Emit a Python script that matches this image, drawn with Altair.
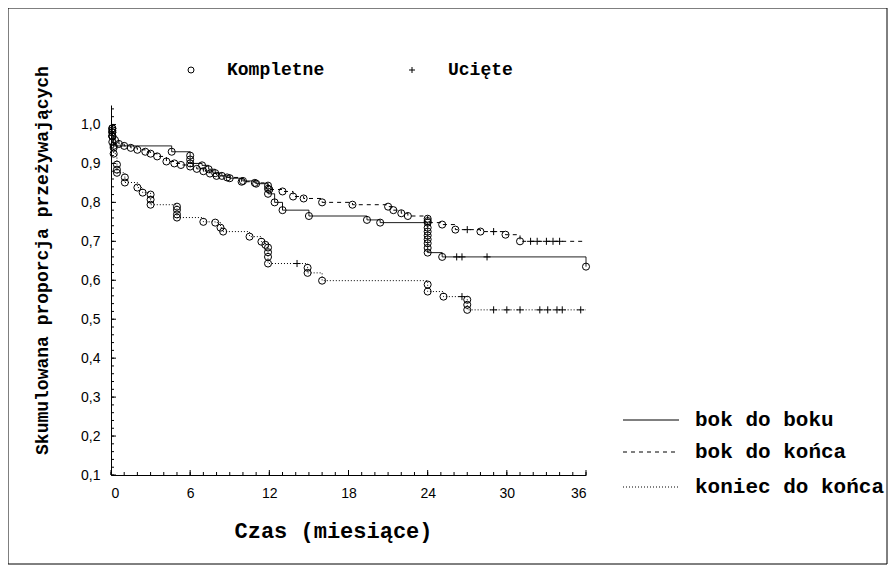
import altair as alt
import pandas as pd

series_names = ["bok do boku", "bok do końca", "koniec do końca"]
kinds = ["Kompletne", "Ucięte"]

# --- bok do boku (solid) ---
s1_event_t = [0.1, 0.1, 0.1, 0.2, 4.6, 6.0, 6.0, 6.0, 6.9, 7.4, 7.9, 8.4, 9.0, 10.0, 11.0,
              11.9, 11.9, 12.4, 13.0, 15.0, 19.4, 20.4, 24.0, 24.0, 24.0, 24.0, 24.0, 24.0,
              24.0, 25.1, 36.0]
s1_event_s = [0.99, 0.98, 0.97, 0.945, 0.93, 0.92, 0.91, 0.90, 0.895, 0.885, 0.875, 0.868,
              0.862, 0.855, 0.848, 0.835, 0.822, 0.80, 0.78, 0.765, 0.755, 0.748, 0.735,
              0.725, 0.715, 0.705, 0.695, 0.683, 0.671, 0.66, 0.635]
s1_cens_t = [26.2, 26.6, 28.5]
s1_cens_s = [0.66, 0.66, 0.66]

# --- bok do końca (dashed) ---
s2_event_t = [0.1, 0.1, 0.1, 0.3, 0.6, 1.0, 1.5, 2.0, 2.6, 3.0, 3.5, 4.2, 4.8, 5.3, 6.0,
              6.5, 7.0, 7.5, 8.0, 8.8, 9.9, 10.9, 11.9, 12.0, 13.0, 13.8, 14.6, 16.0, 18.3,
              21.0, 21.4, 22.0, 22.5, 24.0, 24.0, 24.0, 25.1, 26.1, 28.0, 29.9, 31.0]
s2_event_s = [0.99, 0.98, 0.97, 0.96, 0.95, 0.945, 0.94, 0.935, 0.93, 0.925, 0.918, 0.905,
              0.90, 0.896, 0.892, 0.886, 0.88, 0.874, 0.868, 0.864, 0.853, 0.85, 0.843,
              0.833, 0.828, 0.815, 0.81, 0.80, 0.794, 0.789, 0.78, 0.772, 0.765, 0.758,
              0.752, 0.748, 0.743, 0.73, 0.725, 0.717, 0.70]
s2_cens_t = [27.0, 29.0, 31.8, 32.3, 33.0, 33.5, 34.0]
s2_cens_s = [0.73, 0.725, 0.70, 0.70, 0.70, 0.70, 0.70]

# --- koniec do końca (dotted) ---
s3_event_t = [0.1, 0.1, 0.1, 0.2, 0.2, 0.45, 0.45, 0.45, 1.05, 1.05, 2.0, 2.4, 3.0, 3.0,
              3.0, 5.0, 5.0, 5.0, 5.0, 7.0, 7.9, 8.3, 8.5, 10.5, 11.4, 11.7, 11.9, 11.9,
              11.9, 11.9, 14.9, 14.9, 16.0, 24.0, 24.0, 25.2, 27.0, 27.0, 27.0]
s3_event_s = [0.985, 0.97, 0.955, 0.94, 0.925, 0.897, 0.884, 0.876, 0.864, 0.851, 0.838,
              0.825, 0.82, 0.807, 0.794, 0.789, 0.781, 0.769, 0.761, 0.75, 0.748, 0.735,
              0.725, 0.712, 0.699, 0.691, 0.684, 0.672, 0.66, 0.643, 0.632, 0.619, 0.599,
              0.589, 0.571, 0.558, 0.55, 0.537, 0.524]
s3_cens_t = [14.1, 26.6, 29.0, 30.0, 31.0, 32.5, 33.1, 33.8, 34.2, 35.6]
s3_cens_s = [0.643, 0.558, 0.524, 0.524, 0.524, 0.524, 0.524, 0.524, 0.524, 0.524]

end_time = 36.0

x_label_values = [0, 6, 12, 18, 24, 30, 36]
y_label_values = [0.1, 0.2, 0.3, 0.4, 0.5, 0.6, 0.7, 0.8, 0.9, 1.0]
x_minor_ticks = list(range(0, 37))
y_minor_ticks = [0.1, 0.12, 0.14, 0.16, 0.18, 0.2, 0.22, 0.24, 0.26, 0.28, 0.3, 0.32, 0.34,
                 0.36, 0.38, 0.4, 0.42, 0.44, 0.46, 0.48, 0.5, 0.52, 0.54, 0.56, 0.58, 0.6,
                 0.62, 0.64, 0.66, 0.68, 0.7, 0.72, 0.74, 0.76, 0.78, 0.8, 0.82, 0.84, 0.86,
                 0.88, 0.9, 0.92, 0.94, 0.96, 0.98, 1.0, 1.02, 1.04]

series_data = [
    (series_names[0], s1_event_t, s1_event_s, s1_cens_t, s1_cens_s),
    (series_names[1], s2_event_t, s2_event_s, s2_cens_t, s2_cens_s),
    (series_names[2], s3_event_t, s3_event_s, s3_cens_t, s3_cens_s),
]

line_rows = []
point_rows = []
for name, et, es, ct, cs in series_data:
    recs = [(t, s, kinds[0]) for t, s in zip(et, es)] + [(t, s, kinds[1]) for t, s in zip(ct, cs)]
    recs.sort(key=lambda r: (r[0], -r[1]))
    seq = [(0.0, 1.0)] + [(t, s) for t, s, _ in recs]
    last = seq[-1][1]
    if seq[-1][0] < end_time:
        seq.append((end_time, last))
    for i, (t, s) in enumerate(seq):
        line_rows.append({"series": name, "t": t, "s": s, "i": i})
    for t, s, k in recs:
        point_rows.append({"series": name, "t": t, "s": s, "kind": k})

lines_df = pd.DataFrame(line_rows)
points_df = pd.DataFrame(point_rows)

W, H = 475, 370
MONO = "Liberation Mono"
SANS = "Liberation Sans"

xscale = alt.Scale(domain=[0, 36], nice=False, zero=False)
yscale = alt.Scale(domain=[0.1, 1.05], nice=False, zero=False)

x_axis = alt.Axis(
    values=x_label_values, tickSize=0, grid=False, domainColor="black", domainWidth=1,
    labelFont=SANS, labelFontSize=14, labelColor="black", labelPadding=11,
    title="Czas (miesiące)", titleFont=MONO, titleFontSize=22, titleFontWeight="bold",
    titleColor="black", titleX=222, titleY=55, titleAlign="center", titleBaseline="middle")
y_axis = alt.Axis(
    values=y_label_values, tickSize=0, grid=False, domainColor="black", domainWidth=1,
    labelFont=SANS, labelFontSize=14, labelColor="black", labelPadding=11,
    labelExpr="replace(format(datum.value, '.1f'), '.', ',')",
    title="Skumulowana proporcja przeżywających", titleFont=MONO, titleFontSize=18,
    titleFontWeight="bold", titleColor="black", titleX=-69, titleY=155,
    titleAngle=270, titleAlign="center", titleBaseline="middle")

X = alt.X("t:Q", scale=xscale, axis=x_axis, title="Czas (miesiące)")
Y = alt.Y("s:Q", scale=yscale, axis=y_axis, title="Skumulowana proporcja przeżywających")

lines = alt.Chart(lines_df).mark_line(interpolate="step-after", color="black", strokeWidth=1).encode(
    x=X, y=Y,
    strokeDash=alt.StrokeDash("series:N", scale=alt.Scale(domain=series_names,
                              range=[[1, 0], [4, 4], [1, 2]]), legend=None),
    detail="series:N",
    order=alt.Order("i:Q"),
)

points = alt.Chart(points_df).mark_point(filled=False, color="black", strokeWidth=1,
                                         opacity=1, size=50).encode(
    x=X, y=Y,
    shape=alt.Shape("kind:N", scale=alt.Scale(domain=kinds, range=["circle", "M-1,0L1,0M0,-1L0,1"]),
                    legend=alt.Legend(orient="none", legendX=71, legendY=-44, direction="horizontal",
                                      title=None, labelFont=MONO, labelFontSize=18,
                                      labelFontWeight="bold", labelColor="black", symbolSize=36,
                                      symbolStrokeColor="black", symbolStrokeWidth=1,
                                      symbolFillColor="transparent",
                                      labelOffset=27, columnPadding=78, padding=0)),
)

tick_df_x = pd.DataFrame({"t": x_minor_ticks})
tick_df_xm = pd.DataFrame({"t": x_label_values})
tick_df_y = pd.DataFrame({"s": y_minor_ticks})
tick_df_ym = pd.DataFrame({"s": y_label_values})

xt = alt.Chart(tick_df_x).mark_rule(color="black", strokeWidth=1).encode(
    x=X, y=alt.value(H), y2=alt.value(H - 3))
xtm = alt.Chart(tick_df_xm).mark_rule(color="black", strokeWidth=1).encode(
    x=X, y=alt.value(H), y2=alt.value(H - 5))
yt = alt.Chart(tick_df_y).mark_rule(color="black", strokeWidth=1).encode(
    y=Y, x=alt.value(0), x2=alt.value(3))
ytm = alt.Chart(tick_df_ym).mark_rule(color="black", strokeWidth=1).encode(
    y=Y, x=alt.value(0), x2=alt.value(5))

one = pd.DataFrame({"a": [0]})
frame = alt.Chart(one).mark_rect(fill="transparent", stroke="black", strokeWidth=1).encode(
    x=alt.value(-103), x2=alt.value(776), y=alt.value(-97), y2=alt.value(459))

legend_y = [315, 347, 382]
legend_dash = [[1, 0], [4, 4], [1, 2]]
leg_layers = []
for nm, ly, dash in zip(series_names, legend_y, legend_dash):
    leg_layers.append(alt.Chart(one).mark_rule(color="black", strokeWidth=1, strokeDash=dash).encode(
        x=alt.value(512), x2=alt.value(568), y=alt.value(ly)))
    leg_layers.append(alt.Chart(one).mark_text(text=nm, font=MONO, fontSize=21, fontWeight="bold",
                                               align="left", baseline="middle", color="black").encode(
        x=alt.value(584), y=alt.value(ly)))

chart = alt.layer(lines, points, xt, xtm, yt, ytm, frame, *leg_layers).properties(
    width=W, height=H,
    autosize=alt.AutoSizeParams(type="none"),
    padding={"left": 103, "top": 97, "right": 302, "bottom": 90},
).configure_view(stroke=None)

chart.save("out.html", embed_options={"renderer": "svg", "actions": False})
